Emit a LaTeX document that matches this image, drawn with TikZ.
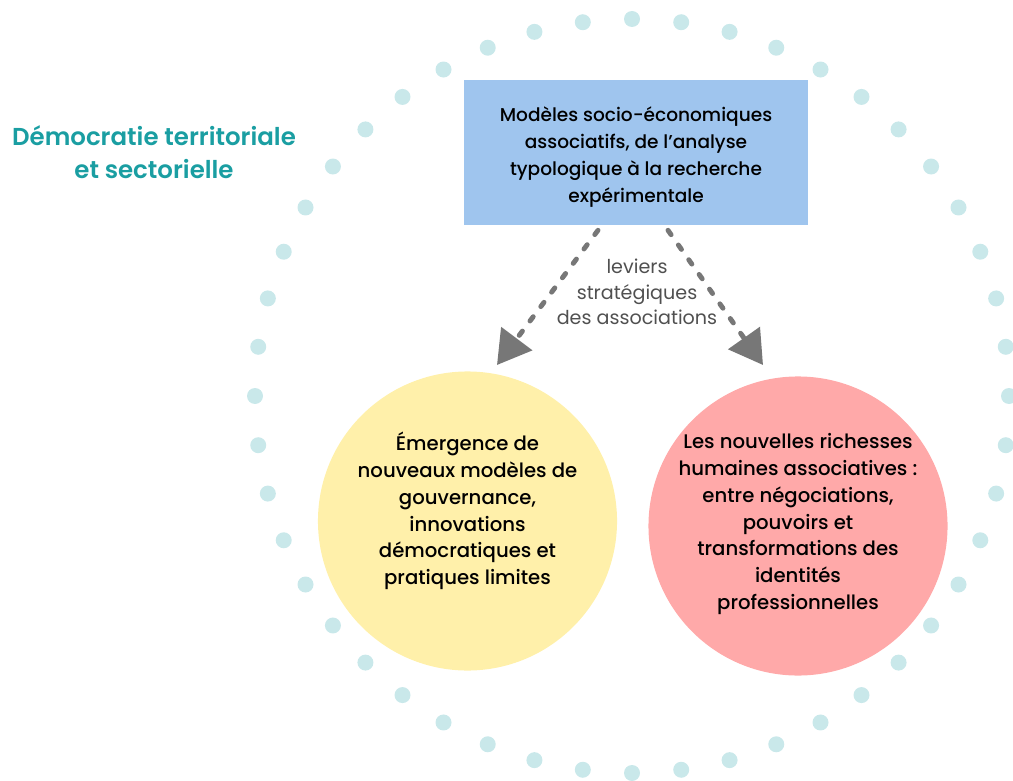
\documentclass[tikz,border=0pt]{standalone}
\usepackage{fontspec}
\setmainfont{Poppins}
\newfontfamily\medfont{Poppins Medium}
\newfontfamily\semifont{Poppins SemiBold}
\usetikzlibrary{arrows.meta}
\definecolor{ringcyan}{HTML}{C9E8EA}
\definecolor{boxblue}{HTML}{9FC5EE}
\definecolor{govyellow}{HTML}{FFF0AA}
\definecolor{richpink}{HTML}{FFA9A9}
\definecolor{titleteal}{HTML}{1A9EA2}
\definecolor{levergray}{HTML}{777777}
\definecolor{textgray}{HTML}{505050}
\begin{document}
\begin{tikzpicture}[
  x=0.025cm, y=-0.025cm,
  ring_dot/.style={fill=ringcyan},
  socio_box/.style={rectangle, minimum width=8.6cm, minimum height=3.625cm, inner sep=0pt, fill=boxblue},
  gov_circle/.style={circle, minimum size=7.475cm, inner sep=0pt, fill=govyellow},
  rich_circle/.style={circle, minimum size=7.475cm, inner sep=0pt, fill=richpink},
  box_text/.style={align=center, font=\medfont\fontsize{13.2}{19.2}\selectfont},
  circle_text/.style={align=center, font=\medfont\fontsize{14}{19}\selectfont},
  lever_text/.style={align=center, text=textgray, font=\fontsize{13.6}{18.2}\selectfont},
  title_text/.style={align=center, text=titleteal, font=\semifont\fontsize{17.4}{23.5}\selectfont},
  lever_arrow/.style={draw=levergray, line width=3.5pt, line cap=round, dash pattern=on 3.8pt off 9pt, -{Triangle[length=23.5pt, width=27pt, fill=levergray, line cap=butt, sep=0pt]}},
]
\useasboundingbox (0,0) rectangle (1013,781);
% ring of dots
\foreach \a in {0,7.5,...,352.5}
  \fill[ring_dot] (632,396) ++(\a:377) circle (8);
\draw (154,152) node (title) [title_text] {Démocratie territoriale\\et sectorielle};
\draw (636,152.5) node (box) [socio_box] {};
\draw (636,157.5) node (box_label) [box_text] {Modèles socio-économiques\\associatifs, de l’analyse\\typologique à la recherche\\expérimentale};
\draw (467.5,521) node (gov) [gov_circle] {};
\draw (467.5,511) node (gov_label) [circle_text] {Émergence de\\nouveaux modèles de\\gouvernance,\\innovations\\démocratiques et\\pratiques limites};
\draw (798,526) node (rich) [rich_circle] {};
\draw (798,524) node (rich_label) [circle_text] {Les nouvelles richesses\\humaines associatives :\\entre négociations,\\pouvoirs et\\transformations des\\identités\\professionnelles};
\draw (637,292) node (lever) [lever_text] {leviers\\stratégiques\\des associations};
\coordinate (gov_tip) at (497,365);
\coordinate (rich_tip) at (763,365);
\draw[lever_arrow] ([shift={(-38,5)}]box.south) -- (gov_tip);
\draw[lever_arrow] ([shift={(32,5)}]box.south) -- (rich_tip);
\end{tikzpicture}
\end{document}
